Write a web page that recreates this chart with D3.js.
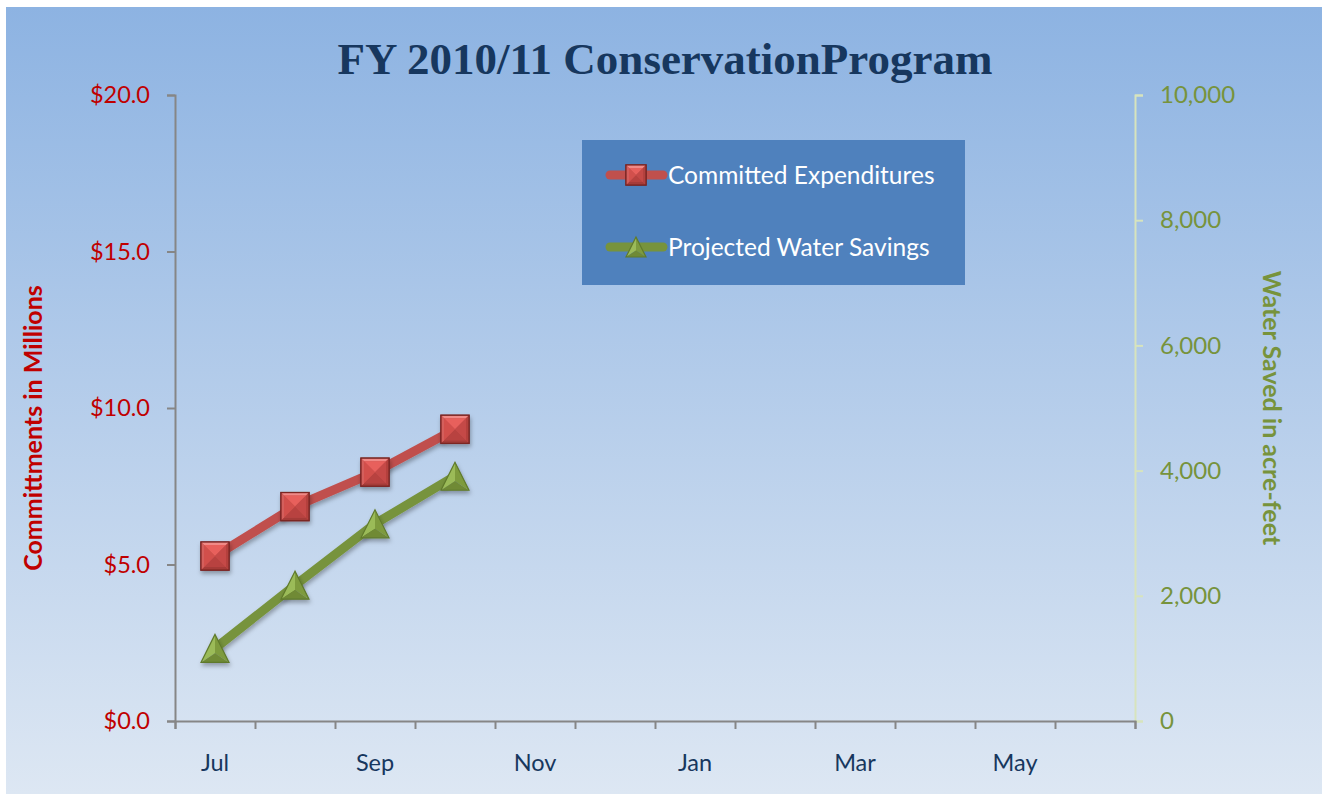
<!DOCTYPE html>
<html>
<head>
<meta charset="utf-8">
<script src="https://cdn.jsdelivr.net/npm/d3@7"></script>
<style>
  body { margin: 0; background: #fff; }
  svg { display: block; }
</style>
</head>
<body>
<div id="chart"></div>
<script>
var months = ["Jul","Aug","Sep","Oct","Nov","Dec","Jan","Feb","Mar","Apr","May","Jun"];
var shownMonths = ["Jul","Sep","Nov","Jan","Mar","May"];
var expenditures = [5.27, 6.85, 7.95, 9.32];      // $ millions, Jul-Oct
var waterSavings = [1160, 2170, 3150, 3910];      // acre-feet, Jul-Oct
var leftTicks = [0, 5, 10, 15, 20];
var rightTicks = [0, 2000, 4000, 6000, 8000, 10000];

var W = 1322, H = 794;
var plot = {left: 175, right: 1135, top: 95, bottom: 721};
var labelFont = "Lato, 'Open Sans', sans-serif";

var svg = d3.select("#chart").append("svg")
    .attr("width", W)
    .attr("height", H);

var defs = svg.append("defs");
var bg = defs.append("linearGradient").attr("id", "bg")
    .attr("x1", 0).attr("y1", 0).attr("x2", 0).attr("y2", 1);
bg.append("stop").attr("offset", "0%").attr("stop-color", "#8db3e2");
bg.append("stop").attr("offset", "100%").attr("stop-color", "#dde7f3");

var shadow = defs.append("filter").attr("id", "shadow")
    .attr("x", "-50%").attr("y", "-50%").attr("width", "200%").attr("height", "200%");
shadow.append("feDropShadow")
    .attr("dx", 1).attr("dy", 3).attr("stdDeviation", 2)
    .attr("flood-color", "#000").attr("flood-opacity", 0.3);

svg.append("rect")
    .attr("x", 6).attr("y", 7)
    .attr("width", W - 6).attr("height", H - 7)
    .attr("fill", "url(#bg)");

// scales
var x = d3.scaleBand().domain(months).range([plot.left, plot.right]).paddingInner(0).paddingOuter(0);
var xEdge = d3.scaleLinear().domain([0, months.length]).range([plot.left, plot.right]);
var yL = d3.scaleLinear().domain([0, 20]).range([plot.bottom, plot.top]);
var yR = d3.scaleLinear().domain([0, 10000]).range([plot.bottom, plot.top]);

// title
svg.append("text")
    .attr("x", 665).attr("y", 74)
    .attr("text-anchor", "middle")
    .attr("font-family", "'Liberation Serif', 'DejaVu Serif', serif")
    .attr("font-size", 45)
    .attr("font-weight", "bold")
    .attr("fill", "#17375e")
    .text("FY 2010/11 ConservationProgram");

// left axis
var gL = svg.append("g")
    .attr("transform", "translate(" + plot.left + ",0)")
    .call(d3.axisLeft(yL).tickValues(leftTicks).tickSize(8).tickPadding(17)
        .tickFormat(function(d) { return "$" + d3.format(".1f")(d); }));
gL.select(".domain").attr("stroke", "#868686").attr("stroke-width", 2);
gL.selectAll(".tick line").attr("stroke", "#868686").attr("stroke-width", 2);
gL.selectAll(".tick text")
    .attr("font-family", labelFont).attr("font-size", 23.5)
    .attr("fill", "#c00000");

// right axis
var gR = svg.append("g")
    .attr("transform", "translate(" + plot.right + ",0)")
    .call(d3.axisRight(yR).tickValues(rightTicks).tickSize(8).tickPadding(17)
        .tickFormat(d3.format(",")));
gR.select(".domain").attr("stroke", "#d7e4bd").attr("stroke-width", 2);
gR.selectAll(".tick line").attr("stroke", "#d7e4bd").attr("stroke-width", 2);
gR.selectAll(".tick text")
    .attr("font-family", labelFont).attr("font-size", 24)
    .attr("fill", "#77933c");

// bottom axis: ticks at month boundaries
var gB = svg.append("g")
    .attr("transform", "translate(0," + plot.bottom + ")")
    .call(d3.axisBottom(xEdge).tickValues(d3.range(months.length + 1)).tickSize(8).tickFormat(""));
gB.select(".domain").attr("stroke", "#868686").attr("stroke-width", 2);
gB.selectAll(".tick line").attr("stroke", "#868686").attr("stroke-width", 2);

// month labels
var gM = svg.append("g")
    .attr("transform", "translate(0," + plot.bottom + ")")
    .call(d3.axisBottom(x).tickSize(0).tickPadding(33)
        .tickFormat(function(d) { return shownMonths.indexOf(d) >= 0 ? d : ""; }));
gM.select(".domain").remove();
gM.selectAll(".tick text")
    .attr("font-family", labelFont).attr("font-size", 23.5)
    .attr("fill", "#17375e");

// axis titles
svg.append("text")
    .attr("transform", "translate(42,428) rotate(-90)")
    .attr("text-anchor", "middle")
    .attr("font-family", labelFont).attr("font-size", 25).attr("font-weight", "bold")
    .attr("fill", "#c00000")
    .text("Committments in Millions");

svg.append("text")
    .attr("transform", "translate(1263,408) rotate(90)")
    .attr("text-anchor", "middle")
    .attr("font-family", labelFont).attr("font-size", 25).attr("font-weight", "bold")
    .attr("fill", "#77933c")
    .text("Water Saved in acre-feet");

// marker drawing helpers
function squareMarker(g, s) {
  var h = s / 2;
  g.append("rect").attr("x", -h).attr("y", -h).attr("width", s).attr("height", s)
      .attr("fill", "#c0504d").attr("stroke", "#7b2624").attr("stroke-width", 1.5);
  var inner = h - 3;
  var faces = [
    {p: [[-h,-h],[h,-h],[inner,-inner],[-inner,-inner]], c: "#f08a87"},
    {p: [[-h,h],[h,h],[inner,inner],[-inner,inner]], c: "#a53b39"},
    {p: [[-h,-h],[-h,h],[-inner,inner],[-inner,-inner]], c: "#d45e5b"},
    {p: [[h,-h],[h,h],[inner,inner],[inner,-inner]], c: "#b4413e"},
    {p: [[-inner,-inner],[inner,-inner],[0,0]], c: "#e8605c"},
    {p: [[-inner,inner],[inner,inner],[0,0]], c: "#b8423f"},
    {p: [[-inner,-inner],[-inner,inner],[0,0]], c: "#d2504c"},
    {p: [[inner,-inner],[inner,inner],[0,0]], c: "#c54946"}
  ];
  faces.forEach(function(f) {
    g.append("path").attr("d", "M" + f.p.join("L") + "Z").attr("fill", f.c);
  });
  g.append("rect").attr("x", -h).attr("y", -h).attr("width", s).attr("height", s)
      .attr("fill", "none").attr("stroke", "#7b2624").attr("stroke-width", 1.2);
}

function triangleMarker(g, s) {
  var h = s / 2;
  var top = [0, -h], bl = [-h, h], br = [h, h], c = [0, h * 0.35];
  g.append("path").attr("d", "M" + [top, br, c].join("L") + "Z").attr("fill", "#7e9b3e");
  g.append("path").attr("d", "M" + [top, bl, c].join("L") + "Z").attr("fill", "#9bbb59");
  g.append("path").attr("d", "M" + [bl, br, c].join("L") + "Z").attr("fill", "#6f8a36");
  g.append("path").attr("d", "M" + [top, bl, br].join("L") + "Z")
      .attr("fill", "none").attr("stroke", "#5f7a2c").attr("stroke-width", 1.2);
}

var line = d3.line()
    .x(function(d, i) { return x(months[i]) + x.bandwidth() / 2; });

// series lines
svg.append("path")
    .datum(expenditures)
    .attr("d", line.y(function(d) { return yL(d); }))
    .attr("fill", "none").attr("stroke", "#c0504d").attr("stroke-width", 9)
    .attr("stroke-linecap", "round")
    .attr("filter", "url(#shadow)");

svg.append("path")
    .datum(waterSavings)
    .attr("d", line.y(function(d) { return yR(d); }))
    .attr("fill", "none").attr("stroke", "#77933c").attr("stroke-width", 9)
    .attr("stroke-linecap", "round")
    .attr("filter", "url(#shadow)");

// markers
svg.selectAll(".sq").data(expenditures).enter().append("g")
    .attr("class", "sq")
    .attr("filter", "url(#shadow)")
    .attr("transform", function(d, i) {
      return "translate(" + (x(months[i]) + x.bandwidth() / 2) + "," + yL(d) + ")";
    })
    .each(function() { squareMarker(d3.select(this), 28); });

svg.selectAll(".tri").data(waterSavings).enter().append("g")
    .attr("class", "tri")
    .attr("filter", "url(#shadow)")
    .attr("transform", function(d, i) {
      return "translate(" + (x(months[i]) + x.bandwidth() / 2) + "," + yR(d) + ")";
    })
    .each(function() { triangleMarker(d3.select(this), 28); });

// legend
var legend = svg.append("g").attr("transform", "translate(582,140)");
legend.append("rect").attr("width", 383).attr("height", 145).attr("fill", "#4f81bd");

var legendItems = [
  {name: "Committed Expenditures", color: "#c0504d", marker: squareMarker, y: 35},
  {name: "Projected Water Savings", color: "#77933c", marker: triangleMarker, y: 107}
];
legendItems.forEach(function(it) {
  var g = legend.append("g").attr("transform", "translate(0," + it.y + ")");
  g.append("line").attr("x1", 28).attr("x2", 81).attr("y1", 0).attr("y2", 0)
      .attr("stroke", it.color).attr("stroke-width", 9).attr("stroke-linecap", "round");
  var m = g.append("g").attr("transform", "translate(54,0)");
  it.marker(m, 20);
  g.append("text").attr("x", 86).attr("y", 0).attr("dy", "0.36em")
      .attr("font-family", labelFont).attr("font-size", 24.5)
      .attr("fill", "#ffffff")
      .text(it.name);
});
</script>
</body>
</html>
